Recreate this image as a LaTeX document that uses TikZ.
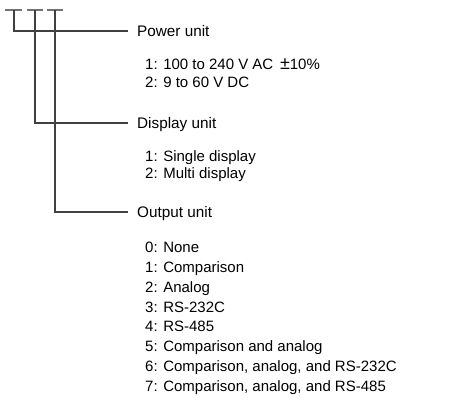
\documentclass[tikz,border=0pt]{standalone}
\usepackage{fontspec}
\setmainfont{Liberation Sans}
\begin{document}
\begin{tikzpicture}[x=1pt,y=-1pt,
  wire/.style={draw=black!75,line width=1.1pt},
  tbar/.style={draw=black!55,line width=1.1pt},
  head/.style={anchor=base west,inner sep=0pt,font=\fontsize{15.3}{18}\selectfont},
  item/.style={anchor=base west,inner sep=0pt,font=\fontsize{15}{18}\selectfont}]
\useasboundingbox (0,0) rectangle (458,403);
% top T marks
\coordinate (t1) at (14,10);
\coordinate (t2) at (35,10);
\coordinate (t3) at (55,10);
\draw[tbar] (5,10) -- (22,10);
\draw[tbar] (27,10) -- (43,10);
\draw[tbar] (47,10) -- (63,10);
% headings
\node[head] (pw) at (137,36.4) {Power unit};
\node[head] (dp) at (137,128.4) {Display unit};
\node[head] (op) at (137,217.4) {Output unit};
\coordinate (pwe) at (128,31);
\coordinate (dpe) at (128,123);
\coordinate (ope) at (128,212);
\draw[wire] (t1) |- (pwe);
\draw[wire] (t2) |- (dpe);
\draw[wire] (t3) |- (ope);
% items
\node[item] (p1) at (145,69.4) {1: 100 to 240 V AC\ \,{\fontsize{18}{18}\selectfont ±}10\%};
\node[item] (p2) at (145,87.4) {2: 9 to 60 V DC};
\node[item] (d1) at (145,161.4) {1: Single display};
\node[item] (d2) at (145,178.4) {2: Multi display};
\foreach \t [count=\i from 0] in {None,Comparison,Analog,RS-232C,RS-485,Comparison and analog,{Comparison, analog, and RS-232C},{Comparison, analog, and RS-485}}
  \node[item] (o\i) at (145,{252.4+19.9*\i}) {\i: \t};
\end{tikzpicture}
\end{document}
